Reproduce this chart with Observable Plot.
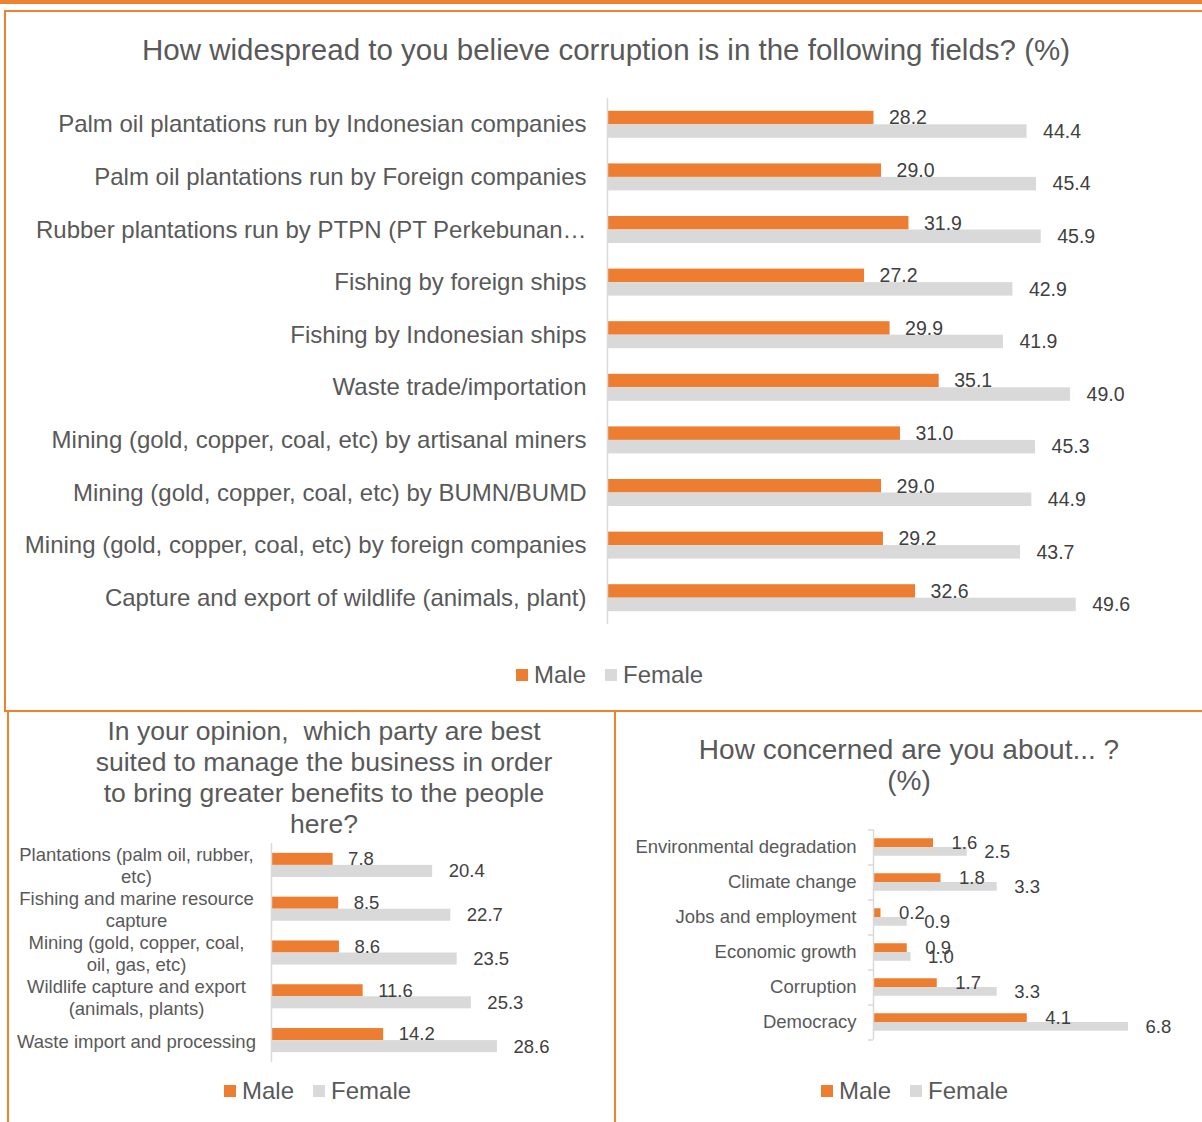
<!DOCTYPE html>
<html><head><meta charset="utf-8">
<script src="https://cdn.jsdelivr.net/npm/d3@7"></script>
<script src="https://cdn.jsdelivr.net/npm/@observablehq/plot@0.6"></script>
<style>
body{margin:0;background:#fff;font-family:"Liberation Sans",Arial,sans-serif;}
#page{position:relative;width:1202px;height:1122px;overflow:hidden;background:#fff;}
.box{position:absolute;box-sizing:border-box;border-color:#EE822F;border-style:solid;border-width:0;}
.title{position:absolute;color:#595959;text-align:center;white-space:nowrap;}
.legend{position:absolute;display:flex;align-items:center;font-size:24px;line-height:28px;color:#595959;white-space:nowrap;}
.sw{width:12px;height:12px;margin-right:6px;}
.plot{position:absolute;}
</style></head>
<body><div id="page">
<div class="box" style="left:0;top:0;width:1202px;height:4px;background:#EE822F;"></div>
<div class="box" style="left:4px;top:10px;width:1210px;height:702px;border-width:2px;"></div>
<div class="box" style="left:7px;top:712px;width:609px;height:430px;border-width:0 2px 0 2px;"></div>
<div class="box" style="left:614px;top:710px;width:600px;height:430px;border-width:2px 0 0 2px;"></div>

<div class="title" style="left:0;width:1212px;top:33px;font-size:29.5px;line-height:34px;">How widespread to you believe corruption is in the following fields? (%)</div>
<div class="title" style="left:24px;width:600px;top:716px;font-size:26.5px;line-height:31px;">In your opinion,&nbsp; which party are best<br>suited to manage the business in order<br>to bring greater benefits to the people<br>here?</div>
<div class="title" style="left:609px;width:600px;top:734px;font-size:28px;line-height:31px;">How concerned are you about... ?<br>(%)</div>

<div id="top" class="plot" style="left:0;top:90px;"></div>
<div id="left" class="plot" style="left:0;top:830px;"></div>
<div id="right" class="plot" style="left:620px;top:815px;"></div>

<div id="lg1" class="legend" style="left:516px;top:661px;"></div>
<div id="lg2" class="legend" style="left:224px;top:1077px;"></div>
<div id="lg3" class="legend" style="left:821px;top:1077px;"></div>
</div>
<script>
// ---- data ----
const seriesNames = ["Male", "Female"];
const seriesColors = ["#ED7D31", "#D9D9D9"];

const fieldCats = [
  "Palm oil plantations run by Indonesian companies",
  "Palm oil plantations run by Foreign companies",
  "Rubber plantations run by PTPN (PT Perkebunan\u2026",
  "Fishing by foreign ships",
  "Fishing by Indonesian ships",
  "Waste trade/importation",
  "Mining (gold, copper, coal, etc) by artisanal miners",
  "Mining (gold, copper, coal, etc) by BUMN/BUMD",
  "Mining (gold, copper, coal, etc) by foreign companies",
  "Capture and export of wildlife (animals, plant)"
];
const fieldMale = [28.2, 29.0, 31.9, 27.2, 29.9, 35.1, 31.0, 29.0, 29.2, 32.6];
const fieldFemale = [44.4, 45.4, 45.9, 42.9, 41.9, 49.0, 45.3, 44.9, 43.7, 49.6];

const partyCats = [
  "Plantations (palm oil, rubber, etc)",
  "Fishing and marine resource capture",
  "Mining (gold, copper, coal, oil, gas, etc)",
  "Wildlife capture and export (animals, plants)",
  "Waste import and processing"
];
const partyMale = [7.8, 8.5, 8.6, 11.6, 14.2];
const partyFemale = [20.4, 22.7, 23.5, 25.3, 28.6];

const concernCats = [
  "Environmental degradation",
  "Climate change",
  "Jobs and employment",
  "Economic growth",
  "Corruption",
  "Democracy"
];
const concernMale = [1.6, 1.8, 0.2, 0.9, 1.7, 4.1];
const concernFemale = [2.5, 3.3, 0.9, 1.0, 3.3, 6.8];

// ---- drawing ----
const FONT = '"Liberation Sans", Arial, sans-serif';
function rows(cats, m, f) { return cats.map((c, i) => ({cat: c, male: m[i], female: f[i]})); }

// greedy word wrap measured with the real font
function wrapper(fontSize, maxWidth) {
  const ctx = document.createElement("canvas").getContext("2d");
  ctx.font = fontSize + 'px "Liberation Sans", Arial, sans-serif';
  return s => {
    const words = s.split(" ");
    const lines = [];
    let cur = "";
    for (const w of words) {
      const t = cur ? cur + " " + w : w;
      if (cur && ctx.measureText(t).width > maxWidth) { lines.push(cur); cur = w; }
      else cur = t;
    }
    if (cur) lines.push(cur);
    return lines.join("\n");
  };
}

function chart(o) {
  const data = rows(o.cats, o.male, o.female);
  const n = o.cats.length;
  const step = (o.height - o.marginTop - o.marginBottom) / n;
  const half = step * (1 - o.pad) / 2;
  const axisOpts = {tickSize: 0, tickPadding: o.tickPadding, textAnchor: o.anchor || "end",
    lineHeight: o.lineHeight || 1, fontSize: o.labelSize, fill: "#595959", label: null};
  if (o.wrapWidth) axisOpts.tickFormat = wrapper(o.labelSize, o.wrapWidth);
  const marks = [
    Plot.barX(data, {x: "male", y: "cat", fill: seriesColors[0], insetBottom: half}),
    Plot.barX(data, {x: "female", y: "cat", fill: seriesColors[1], insetTop: half}),
    Plot.ruleX([0], {stroke: "#D9D9D9", strokeWidth: 1.5}),
    Plot.text(data, {x: "male", y: "cat", text: d => d.male.toFixed(1), dy: -half / 2, dx: o.dxM,
      textAnchor: "start", fill: "#404040", fontSize: o.valueSize}),
    Plot.text(data, {x: "female", y: "cat", text: d => d.female.toFixed(1), dy: half / 2, dx: o.dxF,
      textAnchor: "start", fill: "#404040", fontSize: o.valueSize}),
    Plot.axisY(axisOpts)
  ];
  if (o.boundaryTicks) {
    marks.push(Plot.ruleY(o.cats, {y: d => d, dy: -step / 2, x1: 0, x2: 0, insetLeft: -5, stroke: "#D9D9D9", strokeWidth: 1.5}));
    marks.push(Plot.ruleY([o.cats[n - 1]], {y: d => d, dy: step / 2, x1: 0, x2: 0, insetLeft: -5, stroke: "#D9D9D9", strokeWidth: 1.5}));
  }
  return Plot.plot({
    width: o.width, height: o.height,
    marginLeft: o.marginLeft, marginRight: o.marginRight,
    marginTop: o.marginTop, marginBottom: o.marginBottom,
    x: {domain: [0, o.xMax], axis: null},
    y: {domain: o.cats, paddingInner: o.pad, paddingOuter: o.pad / 2, round: false, label: null, axis: null},
    style: {background: "transparent", fontFamily: FONT, fontSize: o.labelSize + "px", color: "#595959", overflow: "visible", maxWidth: "none"},
    marks
  });
}

document.getElementById("top").append(chart({
  cats: fieldCats, male: fieldMale, female: fieldFemale,
  width: 1202, height: 560, marginLeft: 607, marginRight: 122.5, marginTop: 8, marginBottom: 26,
  xMax: 50, pad: 0.487, labelSize: 24, valueSize: 19.5, tickPadding: 21, dxM: 15, dxF: 16
}));

document.getElementById("left").append(chart({
  cats: partyCats, male: partyMale, female: partyFemale,
  width: 615, height: 250, marginLeft: 271, marginRight: 107, marginTop: 13, marginBottom: 18,
  xMax: 30, pad: 0.45, labelSize: 18.5, valueSize: 18.5, tickPadding: 135, anchor: "middle",
  wrapWidth: 242, lineHeight: 1.19, dxM: 15, dxF: 16
}));

document.getElementById("right").append(chart({
  cats: concernCats, male: concernMale, female: concernFemale,
  width: 582, height: 240, marginLeft: 253, marginRight: 66.5, marginTop: 14.5, marginBottom: 15.5,
  xMax: 7, pad: 0.5, labelSize: 18.5, valueSize: 18.5, tickPadding: 17, dxM: 18, dxF: 17,
  boundaryTicks: true
}));

function legend(id, gap) {
  const el = document.getElementById(id);
  seriesNames.forEach((name, i) => {
    const sw = document.createElement("div");
    sw.className = "sw"; sw.style.background = seriesColors[i];
    const t = document.createElement("span");
    t.textContent = name;
    if (i < seriesNames.length - 1) t.style.marginRight = gap + "px";
    el.append(sw, t);
  });
}
legend("lg1", 19); legend("lg2", 19); legend("lg3", 19);
</script>
</body></html>
